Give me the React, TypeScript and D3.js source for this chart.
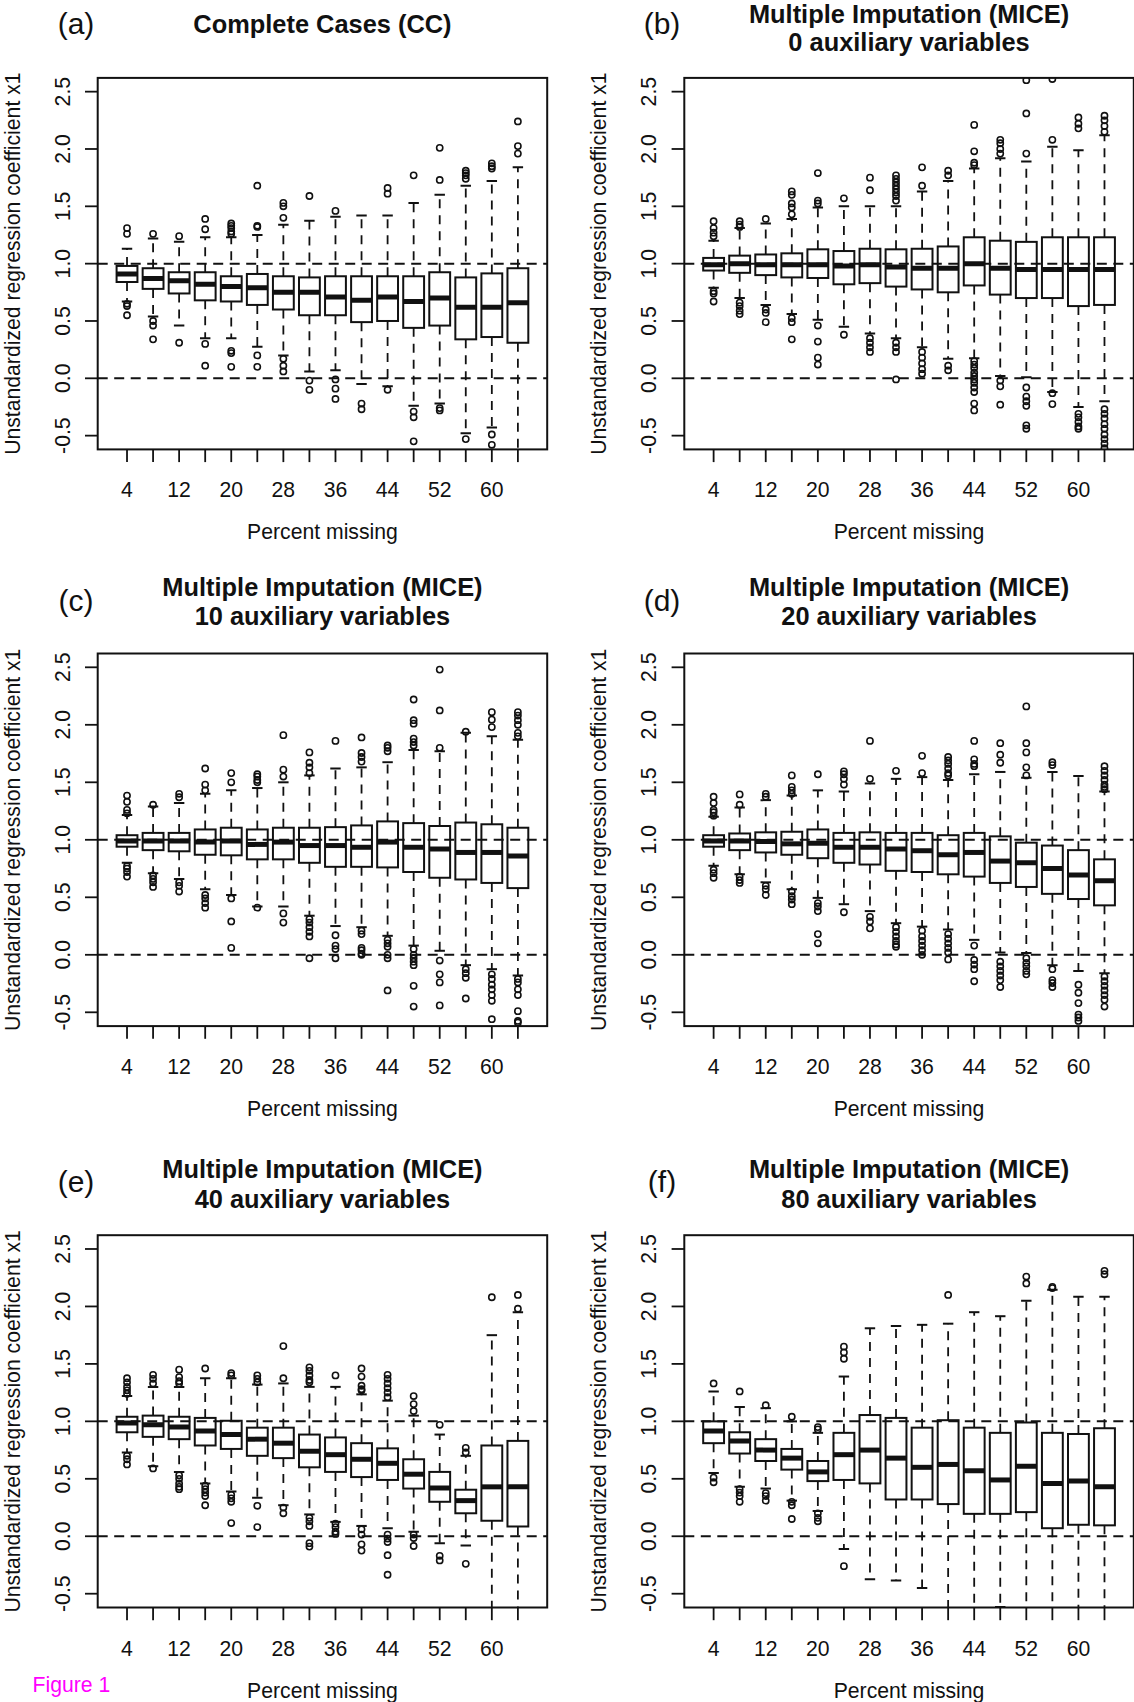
import React from 'react';
import * as d3 from 'd3';

// box positions (percent missing) and axis ticks
const percents = [4, 8, 12, 16, 20, 24, 28, 32, 36, 40, 44, 48, 52, 56, 60, 64];
const xTickLabels = [4, 12, 20, 28, 36, 44, 52, 60];
const yTicks = [-0.5, 0, 0.5, 1, 1.5, 2, 2.5];
const refLines = [0, 1];

// (a) Complete cases
const aLow = [0.67, 0.54, 0.46, 0.35, 0.35, 0.275, 0.2, 0.06, 0.07, -0.05, -0.07, -0.24, -0.22, -0.48, -0.43, -0.75];
const aQ1 = [0.84, 0.78, 0.74, 0.68, 0.67, 0.64, 0.6, 0.55, 0.55, 0.49, 0.5, 0.44, 0.46, 0.34, 0.36, 0.31];
const aMed = [0.91, 0.87, 0.85, 0.82, 0.8, 0.79, 0.75, 0.75, 0.71, 0.68, 0.71, 0.67, 0.7, 0.62, 0.62, 0.66];
const aQ3 = [0.98, 0.96, 0.925, 0.925, 0.89, 0.91, 0.89, 0.88, 0.89, 0.89, 0.89, 0.89, 0.925, 0.88, 0.915, 0.96];
const aHigh = [1.13, 1.22, 1.19, 1.23, 1.23, 1.25, 1.34, 1.375, 1.41, 1.42, 1.42, 1.53, 1.6, 1.68, 1.72, 1.84];
const aOut = [
  [1.31, 1.26, 0.65, 0.63, 0.55], [1.26, 0.5, 0.46, 0.34], [1.24, 0.31], [1.39, 1.3, 0.3, 0.11],
  [1.35, 1.33, 1.31, 1.28, 1.26, 0.24, 0.22, 0.1], [1.68, 1.33, 1.32, 0.2, 0.1], [1.53, 1.5, 1.4, 0.17, 0.11, 0.06], [1.59, -0.02, -0.1],
  [1.46, -0.01, -0.09, -0.18], [-0.22, -0.27], [1.66, 1.61, -0.1], [1.77, -0.29, -0.34, -0.55],
  [2.01, 1.73, -0.26, -0.28], [1.81, 1.79, 1.77, 1.74, -0.53], [1.875, 1.85, 1.83, -0.49, -0.58], [2.24, 2.025, 1.96],
];

// (b) MICE, 0 auxiliary variables
const bLow = [0.79, 0.7, 0.64, 0.56, 0.51, 0.45, 0.39, 0.35, 0.27, 0.17, 0.175, 0.02, 0.01, -0.12, -0.25, -0.2];
const bQ1 = [0.94, 0.92, 0.9, 0.88, 0.875, 0.82, 0.83, 0.8, 0.775, 0.75, 0.81, 0.73, 0.7, 0.7, 0.63, 0.64];
const bMed = [0.99, 1.0, 0.99, 0.99, 0.99, 0.98, 0.99, 0.97, 0.96, 0.96, 1.0, 0.96, 0.95, 0.95, 0.95, 0.95];
const bQ3 = [1.05, 1.07, 1.08, 1.09, 1.125, 1.11, 1.13, 1.125, 1.13, 1.15, 1.23, 1.2, 1.19, 1.23, 1.23, 1.23];
const bHigh = [1.2, 1.31, 1.35, 1.39, 1.49, 1.5, 1.5, 1.5, 1.63, 1.72, 1.83, 1.92, 1.89, 2.02, 1.99, 2.12];
const bOut = [
  [1.37, 1.31, 1.27, 1.24, 0.76, 0.74, 0.67], [1.37, 1.34, 1.32, 0.66, 0.63, 0.59, 0.56], [1.39, 0.6, 0.57, 0.49],
  [1.63, 1.6, 1.525, 1.49, 1.43, 0.525, 0.49, 0.34], [1.79, 1.55, 1.525, 0.46, 0.32, 0.18, 0.12], [1.57, 0.38],
  [1.75, 1.64, 0.35, 0.31, 0.27, 0.23], [1.77, 1.74, 1.71, 1.68, 1.65, 1.62, 1.59, 1.55, 0.31, 0.27, 0.23, -0.01],
  [1.84, 1.68, 0.23, 0.18, 0.13, 0.08, 0.04], [1.81, 1.77, 0.11, 0.07],
  [2.21, 1.98, 1.88, 1.86, 0.15, 0.12, 0.09, 0.05, 0.02, -0.01, -0.04, -0.08, -0.12, -0.22, -0.28],
  [2.08, 2.05, 2.0, 1.96, -0.02, -0.07, -0.23], [2.6, 2.31, 1.96, -0.08, -0.16, -0.2, -0.24, -0.41, -0.44],
  [2.61, 2.08, -0.13, -0.225], [2.275, 2.22, 2.18, -0.31, -0.34, -0.38, -0.42, -0.44],
  [2.29, 2.25, 2.2, 2.15, -0.27, -0.31, -0.35, -0.4, -0.44, -0.49, -0.53, -0.57, -0.61],
];

// (c) MICE, 10 auxiliary variables
const cLow = [0.8, 0.71, 0.66, 0.57, 0.52, 0.42, 0.42, 0.34, 0.25, 0.24, 0.165, 0.08, 0.035, -0.09, -0.125, -0.18];
const cQ1 = [0.94, 0.91, 0.9, 0.87, 0.865, 0.83, 0.83, 0.8, 0.765, 0.765, 0.76, 0.72, 0.67, 0.655, 0.625, 0.58];
const cMed = [0.99, 0.99, 0.99, 0.98, 0.99, 0.96, 0.98, 0.95, 0.95, 0.935, 0.98, 0.935, 0.92, 0.89, 0.89, 0.86];
const cQ3 = [1.04, 1.06, 1.06, 1.09, 1.105, 1.09, 1.105, 1.105, 1.11, 1.125, 1.16, 1.145, 1.12, 1.15, 1.135, 1.105];
const cHigh = [1.215, 1.29, 1.32, 1.4, 1.43, 1.45, 1.5, 1.56, 1.62, 1.63, 1.675, 1.78, 1.77, 1.93, 1.9, 1.87];
const cOut = [
  [1.385, 1.33, 1.26, 1.23, 0.77, 0.75, 0.72, 0.68], [1.305, 0.69, 0.66, 0.63, 0.59], [1.4, 1.37, 0.63, 0.6, 0.55],
  [1.62, 1.48, 1.43, 0.52, 0.49, 0.45, 0.41], [1.58, 1.5, 0.49, 0.29, 0.06], [1.57, 1.55, 1.52, 1.5, 0.41],
  [1.91, 1.61, 1.55, 0.36, 0.28], [1.76, 1.67, 1.63, 1.58, 0.31, 0.28, 0.24, 0.2, 0.16, -0.03],
  [1.86, 0.17, 0.08, 0.05, -0.03], [1.89, 1.755, 1.72, 1.68, 0.21, 0.18, 0.06, 0.04, 0.01, 0.0],
  [1.82, 1.8, 1.77, 0.13, 0.1, 0.07, 0.0, -0.03, -0.31],
  [2.22, 2.04, 2.01, 1.88, 1.85, 1.82, 0.05, 0.0, -0.03, -0.06, -0.09, -0.27, -0.45],
  [2.48, 2.125, 1.8, -0.05, -0.17, -0.24, -0.44], [1.94, -0.125, -0.16, -0.2, -0.38],
  [2.11, 2.045, 1.98, -0.17, -0.21, -0.26, -0.3, -0.35, -0.4, -0.56],
  [2.11, 2.08, 2.04, 2.0, 1.93, 1.9, -0.21, -0.24, -0.3, -0.35, -0.49, -0.575, -0.59],
];

// (d) MICE, 20 auxiliary variables
const dLow = [0.775, 0.7, 0.63, 0.57, 0.495, 0.44, 0.38, 0.275, 0.245, 0.22, 0.13, 0.02, 0.015, -0.09, -0.14, -0.16];
const dQ1 = [0.94, 0.91, 0.89, 0.87, 0.84, 0.8, 0.785, 0.73, 0.72, 0.7, 0.68, 0.625, 0.59, 0.53, 0.485, 0.43];
const dMed = [0.99, 0.99, 0.985, 0.965, 0.97, 0.935, 0.935, 0.92, 0.905, 0.87, 0.89, 0.815, 0.8, 0.75, 0.695, 0.645];
const dQ3 = [1.04, 1.055, 1.065, 1.07, 1.09, 1.06, 1.065, 1.06, 1.06, 1.04, 1.06, 1.03, 0.975, 0.95, 0.91, 0.83];
const dHigh = [1.2, 1.28, 1.345, 1.385, 1.43, 1.42, 1.49, 1.53, 1.545, 1.52, 1.57, 1.59, 1.54, 1.59, 1.555, 1.42];
const dOut = [
  [1.375, 1.32, 1.26, 1.24, 1.21, 0.74, 0.71, 0.67], [1.395, 1.305, 0.68, 0.65, 0.625], [1.4, 1.375, 0.6, 0.57, 0.52],
  [1.56, 1.46, 1.43, 1.4, 0.55, 0.51, 0.48, 0.44], [1.57, 0.45, 0.42, 0.38, 0.18, 0.1], [1.595, 1.57, 1.53, 1.48, 0.37],
  [1.86, 1.53, 0.33, 0.29, 0.23], [1.6, 0.24, 0.2, 0.16, 0.12, 0.09, 0.07], [1.73, 1.58, 0.21, 0.16, 0.12, 0.08, 0.04, 0.0],
  [1.72, 1.69, 1.66, 1.62, 1.58, 1.56, 0.18, 0.14, 0.1, 0.06, 0.02, -0.04],
  [1.86, 1.7, 1.66, 1.64, 0.08, -0.045, -0.085, -0.125, -0.23], [1.84, 1.74, 1.67, -0.06, -0.1, -0.14, -0.18, -0.22, -0.28],
  [2.16, 1.84, 1.76, 1.63, 1.56, -0.03, -0.07, -0.1, -0.14, -0.17], [1.675, 1.65, -0.125, -0.22, -0.245, -0.28],
  [-0.26, -0.33, -0.42, -0.52, -0.545, -0.575],
  [1.64, 1.6, 1.56, 1.52, 1.48, 1.46, 1.44, -0.19, -0.23, -0.27, -0.31, -0.35, -0.39, -0.45],
];

// (e) MICE, 40 auxiliary variables
const eLow = [0.73, 0.61, 0.56, 0.46, 0.39, 0.335, 0.27, 0.19, 0.125, 0.09, 0.07, 0.04, -0.06, -0.08, -0.7, -0.7];
const eQ1 = [0.905, 0.865, 0.845, 0.79, 0.76, 0.7, 0.68, 0.6, 0.56, 0.515, 0.49, 0.415, 0.3, 0.2, 0.135, 0.085];
const eMed = [0.985, 0.97, 0.95, 0.915, 0.885, 0.845, 0.81, 0.74, 0.71, 0.67, 0.635, 0.54, 0.42, 0.31, 0.43, 0.43];
const eQ3 = [1.04, 1.05, 1.04, 1.03, 1.005, 0.945, 0.945, 0.885, 0.86, 0.81, 0.765, 0.67, 0.56, 0.405, 0.79, 0.83];
const eHigh = [1.22, 1.3, 1.3, 1.375, 1.375, 1.32, 1.33, 1.3, 1.3, 1.235, 1.18, 1.05, 0.885, 0.7, 1.75, 1.95];
const eOut = [
  [1.375, 1.34, 1.3, 1.27, 1.24, 0.7, 0.67, 0.625], [1.405, 1.37, 1.33, 0.59], [1.45, 1.385, 1.35, 1.33, 0.53, 0.5, 0.46, 0.43, 0.41],
  [1.46, 0.44, 0.41, 0.38, 0.35, 0.27], [1.42, 1.4, 0.36, 0.33, 0.3, 0.115], [1.4, 1.37, 1.34, 0.265, 0.08],
  [1.655, 1.375, 0.25, 0.2], [1.47, 1.44, 1.4, 1.36, 1.34, 0.16, 0.13, 0.09, -0.06, -0.09], [1.4, 0.11, 0.08, 0.04, 0.02],
  [1.46, 1.39, 1.31, 1.28, 1.27, 0.06, 0.015, -0.07, -0.125],
  [1.405, 1.37, 1.33, 1.29, 1.25, 1.21, 0.015, -0.02, -0.05, -0.165, -0.335], [1.22, 1.15, 1.09, 0.015, -0.015, -0.085],
  [0.97, -0.17, -0.21], [0.77, 0.73, -0.24], [2.08], [2.1, 1.98],
];

// (f) MICE, 80 auxiliary variables
const fLow = [0.55, 0.43, 0.415, 0.31, 0.22, -0.11, -0.375, -0.385, -0.45, -0.7, -0.7, -0.615, -0.7, -0.7, -0.7, -0.7];
const fQ1 = [0.81, 0.72, 0.655, 0.58, 0.48, 0.49, 0.46, 0.32, 0.32, 0.28, 0.195, 0.195, 0.21, 0.07, 0.1, 0.095];
const fMed = [0.915, 0.83, 0.75, 0.68, 0.56, 0.71, 0.75, 0.68, 0.6, 0.625, 0.57, 0.49, 0.61, 0.46, 0.48, 0.43];
const fQ3 = [1.0, 0.905, 0.845, 0.76, 0.655, 0.9, 1.055, 1.03, 0.945, 1.01, 0.945, 0.9, 0.99, 0.9, 0.89, 0.94];
const fHigh = [1.26, 1.125, 1.115, 1.0, 0.9, 1.39, 1.81, 1.83, 1.84, 1.85, 1.95, 1.915, 2.05, 2.145, 2.085, 2.085];
const fOut = [
  [1.33, 0.51, 0.47], [1.26, 0.41, 0.38, 0.35, 0.3], [1.14, 0.375, 0.35, 0.31], [1.04, 0.3, 0.27, 0.15],
  [0.95, 0.93, 0.2, 0.16, 0.13], [1.65, 1.6, 1.545, -0.26], [], [], [], [2.1], [], [], [2.26, 2.2], [2.17, 2.16], [], [2.31, 2.28],
];

const FONT = '"Liberation Sans", Arial, Helvetica, sans-serif';
const INK = '#111';
const PLOT_W = 449.5;
const FS = 21.2; // axis text size

const panels = [
  { tag: '(a)', title: ['Complete Cases (CC)'], titleY: [32.5], tagX: 76, tagY: 33.5,
    left: 97.7, top: 77.9, bottom: 449.4, low: aLow, q1: aQ1, med: aMed, q3: aQ3, high: aHigh, out: aOut },
  { tag: '(b)', title: ['Multiple Imputation (MICE)', '0 auxiliary variables'], titleY: [22.5, 51], tagX: 662, tagY: 33.5,
    left: 684.3, top: 77.9, bottom: 449.4, low: bLow, q1: bQ1, med: bMed, q3: bQ3, high: bHigh, out: bOut },
  { tag: '(c)', title: ['Multiple Imputation (MICE)', '10 auxiliary variables'], titleY: [595.5, 625], tagX: 76, tagY: 611,
    left: 97.7, top: 653.5, bottom: 1026.1, low: cLow, q1: cQ1, med: cMed, q3: cQ3, high: cHigh, out: cOut },
  { tag: '(d)', title: ['Multiple Imputation (MICE)', '20 auxiliary variables'], titleY: [595.5, 625], tagX: 662, tagY: 611,
    left: 684.3, top: 653.5, bottom: 1026.1, low: dLow, q1: dQ1, med: dMed, q3: dQ3, high: dHigh, out: dOut },
  { tag: '(e)', title: ['Multiple Imputation (MICE)', '40 auxiliary variables'], titleY: [1177.5, 1207.5], tagX: 76, tagY: 1192,
    left: 97.7, top: 1235.2, bottom: 1607.5, low: eLow, q1: eQ1, med: eMed, q3: eQ3, high: eHigh, out: eOut },
  { tag: '(f)', title: ['Multiple Imputation (MICE)', '80 auxiliary variables'], titleY: [1177.5, 1207.5], tagX: 662, tagY: 1192,
    left: 684.3, top: 1235.2, bottom: 1607.5, low: fLow, q1: fQ1, med: fMed, q3: fQ3, high: fHigh, out: fOut },
];

function Panel({ p, idx }: { p: any; idx: number }) {
  const x = d3.scaleLinear().domain([-0.5, 68.5]).range([p.left, p.left + PLOT_W]);
  const y = d3.scaleLinear().domain([-0.62, 2.62]).range([p.bottom, p.top]);
  const step = x(4) - x(0);
  const bw = step * 0.8;
  const cap = bw / 4;
  const clipId = `clip-${idx}`;
  const cx = p.left + PLOT_W / 2;
  const cy = (p.top + p.bottom) / 2;

  return (
    <g>
      <defs>
        <clipPath id={clipId}>
          <rect x={p.left} y={p.top} width={PLOT_W} height={p.bottom - p.top} />
        </clipPath>
      </defs>

      {/* boxes */}
      <g clipPath={`url(#${clipId})`} stroke={INK} fill="none">
        {percents.map((pc, i) => {
          const xc = x(pc);
          return (
            <g key={pc}>
              <line x1={xc} x2={xc} y1={y(p.q3[i])} y2={y(p.high[i])} strokeWidth={1.8} strokeDasharray="9,7" />
              <line x1={xc} x2={xc} y1={y(p.q1[i])} y2={y(p.low[i])} strokeWidth={1.8} strokeDasharray="9,7" />
              <line x1={xc - cap} x2={xc + cap} y1={y(p.high[i])} y2={y(p.high[i])} strokeWidth={2} />
              <line x1={xc - cap} x2={xc + cap} y1={y(p.low[i])} y2={y(p.low[i])} strokeWidth={2} />
              <rect x={xc - bw / 2} y={y(p.q3[i])} width={bw} height={y(p.q1[i]) - y(p.q3[i])} strokeWidth={2} fill="white" />
              <line x1={xc - bw / 2} x2={xc + bw / 2} y1={y(p.med[i])} y2={y(p.med[i])} strokeWidth={5} />
              {p.out[i].map((v: number, j: number) => (
                <circle key={j} cx={xc} cy={y(v)} r={3.1} strokeWidth={1.6} />
              ))}
            </g>
          );
        })}
        {refLines.map((v) => (
          <line key={v} x1={p.left} x2={p.left + PLOT_W} y1={y(v)} y2={y(v)} strokeWidth={2} strokeDasharray="10,6.5" />
        ))}
      </g>

      {/* frame */}
      <rect x={p.left} y={p.top} width={PLOT_W} height={p.bottom - p.top} fill="none" stroke={INK} strokeWidth={2} />

      {/* x axis */}
      <g stroke={INK} strokeWidth={1.8}>
        {percents.map((pc) => (
          <line key={pc} x1={x(pc)} x2={x(pc)} y1={p.bottom} y2={p.bottom + 12.7} />
        ))}
      </g>
      {xTickLabels.map((pc) => (
        <text key={pc} x={x(pc)} y={p.bottom + 48} textAnchor="middle" fontSize={FS} fontFamily={FONT} fill={INK}>{pc}</text>
      ))}
      <text x={cx} y={p.bottom + 90} textAnchor="middle" fontSize={FS} fontFamily={FONT} fill={INK}>Percent missing</text>

      {/* y axis */}
      <g stroke={INK} strokeWidth={1.8}>
        {yTicks.map((t) => (
          <line key={t} x1={p.left - 12.7} x2={p.left} y1={y(t)} y2={y(t)} />
        ))}
      </g>
      {yTicks.map((t) => (
        <text key={t} transform={`translate(${p.left - 28},${y(t)}) rotate(-90)`} textAnchor="middle"
          fontSize={FS} fontFamily={FONT} fill={INK}>{d3.format('.1f')(t).replace('\u2212', '-')}</text>
      ))}
      <text transform={`translate(${p.left - 78},${cy}) rotate(-90)`} textAnchor="middle" fontSize={FS}
        fontFamily={FONT} fill={INK}>Unstandardized regression coefficient x1</text>

      {/* titles */}
      {p.title.map((t: string, k: number) => (
        <text key={k} x={cx} y={p.titleY[k]} textAnchor="middle" fontSize={25.4} fontWeight="bold" fontFamily={FONT} fill={INK}>{t}</text>
      ))}
      <text x={p.tagX} y={p.tagY} textAnchor="middle" fontSize={30} fontFamily={FONT} fill={INK}>{p.tag}</text>
    </g>
  );
}

export default function App() {
  return (
    <div>
      <style>{`body{margin:0;background:#fff}`}</style>
      <svg width={1134} height={1702} style={{ display: 'block' }}>
        <rect width={1134} height={1702} fill="white" />
        {panels.map((p, i) => (
          <Panel key={p.tag} p={p} idx={i} />
        ))}
        <text x={32.5} y={1692} fontSize={FS} fontFamily={FONT} fill="#ff00ff">Figure 1</text>
      </svg>
    </div>
  );
}
